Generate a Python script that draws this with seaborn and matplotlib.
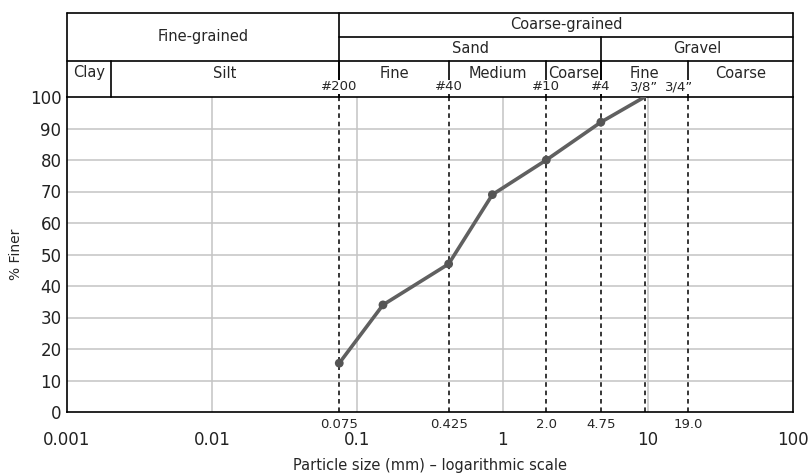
import numpy as np
import pandas as pd
import matplotlib
matplotlib.use("Agg")
import matplotlib.pyplot as plt
import seaborn as sns

# curva granulometrica
diam_mm = [0.075, 0.15, 0.425, 0.85, 2.0, 4.75, 9.5]
pct_finer = [15.5, 34, 47, 69, 80, 92, 100]

# tamices
sieve_sizes = [0.075, 0.425, 2.0, 4.75, 9.5, 19.0]
sieve_names = ["#200", "#40", "#10", "#4", "3/8\u201d", "3/4\u201d"]
sieve_mm_labels = ["0.075", "0.425", "2.0", "4.75", "", "19.0"]

# ejes
major_ticks = [0.001, 0.01, 0.1, 1, 10, 100]
major_labels = ["0.001", "0.01", "0.1", "1", "10", "100"]
y_ticks = list(range(0, 101, 10))

# clasificacion (limites en mm)
row3_names = ["Clay", "Silt", "Fine", "Medium", "Coarse", "Fine", "Coarse"]
row3_bounds = [0.001, 0.002, 0.075, 0.425, 2.0, 4.75, 19.0, 100]
row2_names = ["Sand", "Gravel"]
row2_bounds = [0.075, 4.75, 100]
row1_names = ["Fine-grained", "Coarse-grained"]
row1_bounds = [0.001, 0.075, 100]

sns.set_theme(style="white")
plt.rcParams['font.family'] = ['DejaVu Sans']

W, H = 809, 474
fig = plt.figure(figsize=(W / 100, H / 100), dpi=100)
L, R, B, T = 67, 793, 412, 97
ax = fig.add_axes([L / W, 1 - B / H, (R - L) / W, (B - T) / H])

ax.set_xscale("log")
ax.set_xlim(0.001, 100)
ax.set_ylim(0, 100)

# rejilla gris
for x in major_ticks[1:-1]:
    ax.axvline(x, color="#c4c4c4", lw=1.1, zorder=1)
for y in y_ticks[1:-1]:
    ax.axhline(y, color="#c4c4c4", lw=1.1, zorder=1)

# lineas de tamices
for x in sieve_sizes:
    ax.axvline(x, color="black", lw=1.1, ls=(0, (3, 2.5)), zorder=2)

df = pd.DataFrame({"d": diam_mm, "p": pct_finer})
sns.lineplot(data=df, x="d", y="p", color="#606060", lw=2.6, ax=ax, zorder=4)
sns.scatterplot(data=df.iloc[:-1], x="d", y="p", color="#555555", s=40,
                edgecolor="none", ax=ax, zorder=5)

ax.set_xticks(major_ticks)
ax.set_xticklabels(major_labels, fontsize=12)
ax.xaxis.set_minor_locator(matplotlib.ticker.NullLocator())
ax.set_yticks(y_ticks)
ax.set_yticklabels([str(v) for v in y_ticks], fontsize=12)
ax.tick_params(axis="x", length=0, pad=14, colors="#222222")
ax.tick_params(axis="y", length=0, pad=4, colors="#222222")
ax.set_xlabel("Particle size (mm) \u2013 logarithmic scale", fontsize=10.5, labelpad=6)
ax.set_ylabel("% Finer", fontsize=10, labelpad=5)
for s in ax.spines.values():
    s.set_color("black")
    s.set_linewidth(1.2)

tr = ax.get_xaxis_transform()
hpx = B - T

def ay(py):
    return (B - py) / hpx

# etiquetas en mm de los tamices
for x, lab in zip(sieve_sizes, sieve_mm_labels):
    ax.text(x, ay(424), lab, transform=tr, ha="center", va="center", fontsize=9.5)

# tabla de clasificacion
y_top, y_mid, y_low, y_bot = ay(13), ay(36.5), ay(61), ay(97)
kw = dict(color="black", lw=1.2, transform=tr, clip_on=False)
ax.plot([0.001, 100], [y_top, y_top], **kw)
ax.plot([0.075, 100], [y_mid, y_mid], **kw)
ax.plot([0.001, 100], [y_low, y_low], **kw)
for x in row1_bounds:
    ax.plot([x, x], [y_bot, y_top], **kw)
for x in row2_bounds[1:-1]:
    ax.plot([x, x], [y_bot, y_mid], **kw)
for x in row3_bounds[1:-1]:
    ax.plot([x, x], [y_bot, y_low], **kw)

def gm(a, b):
    return np.sqrt(a * b)

hfs = 10.5
ax.text(gm(*row1_bounds[:2]), ay(37), row1_names[0], transform=tr,
        ha="center", va="center", fontsize=hfs)
ax.text(gm(*row1_bounds[1:]), ay(24), row1_names[1], transform=tr,
        ha="center", va="center", fontsize=hfs)
for i, name in enumerate(row2_names):
    ax.text(gm(row2_bounds[i], row2_bounds[i + 1]), ay(48), name, transform=tr,
            ha="center", va="center", fontsize=hfs)
for i, name in enumerate(row3_names):
    ax.text(gm(row3_bounds[i], row3_bounds[i + 1]), ay(73), name, transform=tr,
            ha="center", va="center", fontsize=hfs)
for x, name in zip(sieve_sizes, sieve_names):
    xx = x * 0.86 if name.startswith("3/4") else x
    ax.text(xx, ay(87), name, transform=tr, ha="center", va="center", fontsize=9.5,
            zorder=6, bbox=dict(facecolor="white", edgecolor="none", pad=0.5))

fig.savefig("out.png", dpi=100)
